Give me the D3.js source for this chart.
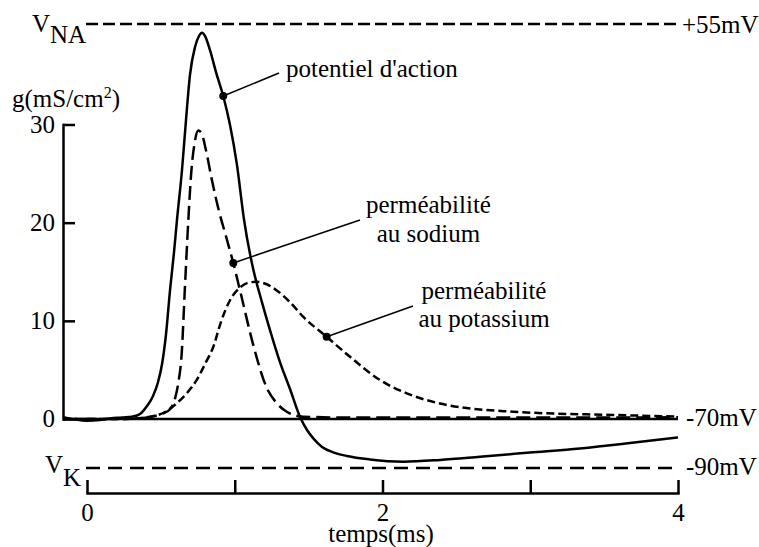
<!DOCTYPE html>
<html lang="fr">
<head>
<meta charset="UTF-8">
<title>Potentiel d'action</title>
<script src="https://cdn.jsdelivr.net/npm/d3@7"></script>
<style>
  body { margin: 0; background: #fff; }
  svg { display: block; }
  text { font-family: "Liberation Serif", "Times New Roman", serif; font-size: 25px; fill: #000; }
  .axis path, .axis line { stroke: #000; stroke-width: 2.5px; }
  .axis text { font-family: "Liberation Serif", serif; font-size: 25px; }
  .curve { fill: none; stroke: #000; stroke-width: 2.5px; }
  .leader { stroke: #000; stroke-width: 1.5px; }
</style>
</head>
<body>
<svg width="759" height="547"></svg>
<script>
// temps (ms) et potentiel de membrane (mV)
var apTime = [-0.162, -0.081, 0, 0.088, 0.156, 0.237, 0.311, 0.359, 0.406, 0.447, 0.481, 0.508, 0.535, 0.562, 0.589, 0.609,
  0.643, 0.67, 0.697, 0.731, 0.758, 0.778, 0.799, 0.832, 0.873, 0.922, 0.968, 1.015, 1.063, 1.126, 1.184, 1.238, 1.306,
  1.374, 1.442, 1.489, 1.536, 1.591, 1.672, 1.76, 1.915, 2.141, 2.389, 2.66, 2.998, 3.337, 3.675, 4.0];
var apVolt = [-69.4, -70.2, -70.7, -70.4, -69.8, -69.5, -69.2, -68.4, -65.9, -62.7, -58.3, -52.6, -43.1, -29.2, -17.2, -7.0,
  8.8, 24.6, 38.9, 47.7, 51.2, 52.2, 51.2, 46.8, 39.8, 32.2, 23.0, 10.4, -7.0, -22.8, -33.0, -41.8, -52.0,
  -60.5, -69.4, -74.5, -78.2, -81.4, -83.7, -85.1, -86.5, -87.4, -86.7, -85.4, -83.7, -82.0, -79.8, -77.5];

// perméabilité au sodium (mS/cm2)
var naTime = [-0.162, 0, 0.223, 0.359, 0.46, 0.516, 0.562, 0.596, 0.616, 0.641, 0.663, 0.686, 0.704, 0.728, 0.753, 0.778,
  0.805, 0.846, 0.893, 0.941, 0.99, 1.042, 1.126, 1.216, 1.279, 1.352, 1.462, 1.78, 2.457, 3.134, 4.0];
var naCond = [0, 0, 0, 0.07, 0.3, 0.58, 1.0, 2.1, 3.5, 6.7, 13.5, 20.3, 24.8, 28.1, 29.4, 29.0,
  27.4, 24.3, 21.2, 18.6, 15.9, 12.7, 7.5, 3.2, 1.7, 0.74, 0.23, 0.15, 0.15, 0.15, 0.17];

// perméabilité au potassium (mS/cm2)
var kTime = [-0.162, 0.223, 0.426, 0.528, 0.607, 0.677, 0.742, 0.799, 0.855, 0.907, 0.968, 1.036, 1.096, 1.149, 1.212,
  1.284, 1.374, 1.464, 1.622, 1.78, 1.983, 2.164, 2.435, 2.885, 3.562, 4.0];
var kCond = [0, 0, 0.23, 0.71, 1.6, 2.65, 3.97, 5.6, 7.36, 9.9, 12.1, 13.4, 13.9, 13.98, 13.75,
  13.1, 11.9, 10.4, 8.38, 6.34, 3.97, 2.62, 1.43, 0.74, 0.41, 0.25];

var gTicks = [0, 10, 20, 30];
var tTicks = [0, 1, 2, 3, 4];
var tLabels = ["0", "", "2", "", "4"];
var vRefs = [55, -70, -90];
var vRefLabels = ["+55mV", "-70mV", "-90mV"];

var svg = d3.select("svg");

var x = d3.scaleLinear().domain([0, 4]).range([87, 678]);
var y = d3.scaleLinear().domain([0, 30]).range([419, 124.5]);
// l'échelle en mV du dessin n'est pas régulière sous -70mV
var v = d3.scaleLinear().domain([-90, -70, 55]).range([468, 419, 24]);

// lignes de référence V_NA et V_K
svg.append("line")
  .attr("x1", x(0) - 1).attr("x2", x(4))
  .attr("y1", v(55)).attr("y2", v(55))
  .attr("stroke", "#000").attr("stroke-width", 2.5)
  .attr("stroke-dasharray", "12,5");
svg.append("line")
  .attr("x1", x(0) - 1).attr("x2", x(4))
  .attr("y1", v(-90)).attr("y2", v(-90))
  .attr("stroke", "#000").attr("stroke-width", 2.5)
  .attr("stroke-dasharray", "14,8");

// ligne de repos
svg.append("line")
  .attr("x1", 63).attr("x2", x(4))
  .attr("y1", y(0)).attr("y2", y(0))
  .attr("stroke", "#000").attr("stroke-width", 2.5);

// axe des conductances
svg.append("g")
  .attr("class", "axis")
  .attr("transform", "translate(63,0)")
  .call(d3.axisLeft(y).tickValues(gTicks).tickSizeInner(-12).tickSizeOuter(0).tickPadding(8))
  .call(function (g) { g.selectAll("text").attr("dy", "0.3em"); });

// axe du temps
svg.append("g")
  .attr("class", "axis")
  .attr("transform", "translate(0,493)")
  .call(d3.axisBottom(x).tickValues(tTicks).tickSizeInner(-13).tickSizeOuter(0).tickPadding(10)
    .tickFormat(function (d, i) { return tLabels[i]; }));
svg.selectAll(".axis .domain").attr("stroke-linecap", "square");

// courbes
var apLine = d3.line()
  .x(function (d, i) { return x(apTime[i]); })
  .y(function (d) { return v(d); })
  .curve(d3.curveMonotoneX);
var gLineNa = d3.line()
  .x(function (d, i) { return x(naTime[i]); })
  .y(function (d) { return y(d); })
  .curve(d3.curveMonotoneX);
var gLineK = d3.line()
  .x(function (d, i) { return x(kTime[i]); })
  .y(function (d) { return y(d); })
  .curve(d3.curveMonotoneX);

svg.append("path").datum(kCond).attr("class", "curve")
  .attr("stroke-dasharray", "8,4").attr("d", gLineK);
svg.append("path").datum(naCond).attr("class", "curve")
  .attr("stroke-dasharray", "14,6").attr("d", gLineNa);
svg.append("path").datum(apVolt).attr("class", "curve")
  .attr("stroke-width", 3).attr("d", apLine);

// annotations
var notes = [
  { px: x(apTime[25]), py: v(apVolt[25]), ex: 279, ey: 73 },
  { px: x(naTime[20]), py: y(naCond[20]), ex: 360, ey: 220 },
  { px: x(kTime[18]), py: y(kCond[18]), ex: 413, ey: 306 }
];
notes.forEach(function (n) {
  svg.append("line").attr("class", "leader")
    .attr("x1", n.px).attr("y1", n.py).attr("x2", n.ex).attr("y2", n.ey);
  svg.append("circle").attr("cx", n.px).attr("cy", n.py).attr("r", 4).attr("fill", "#000");
});

svg.append("text").attr("x", 286).attr("y", 77).text("potentiel d'action");
svg.append("text").attr("x", 428.5).attr("y", 213).attr("text-anchor", "middle").text("perméabilité");
svg.append("text").attr("x", 428.5).attr("y", 241.5).attr("text-anchor", "middle").text("au sodium");
svg.append("text").attr("x", 484).attr("y", 299).attr("text-anchor", "middle").text("perméabilité");
svg.append("text").attr("x", 484).attr("y", 327).attr("text-anchor", "middle").text("au potassium");

// étiquettes mV à droite
vRefs.forEach(function (d, i) {
  svg.append("text")
    .attr("x", i === 0 ? 682 : 686)
    .attr("y", v(d) + (i === 0 ? 9 : 7))
    .text(vRefLabels[i]);
});

var na = svg.append("text").attr("x", 32).attr("y", 32);
na.append("tspan").text("V");
na.append("tspan").attr("dy", 11).text("NA");
var k = svg.append("text").attr("x", 45).attr("y", 473);
k.append("tspan").text("V");
k.append("tspan").attr("dy", 13).text("K");

var gl = svg.append("text").attr("x", 12).attr("y", 107);
gl.append("tspan").text("g(mS/cm");
gl.append("tspan").attr("dy", -9).style("font-size", "16px").text("2");
gl.append("tspan").attr("dy", 9).text(")");

svg.append("text").attr("x", 381).attr("y", 542).attr("text-anchor", "middle").text("temps(ms)");
</script>
</body>
</html>
